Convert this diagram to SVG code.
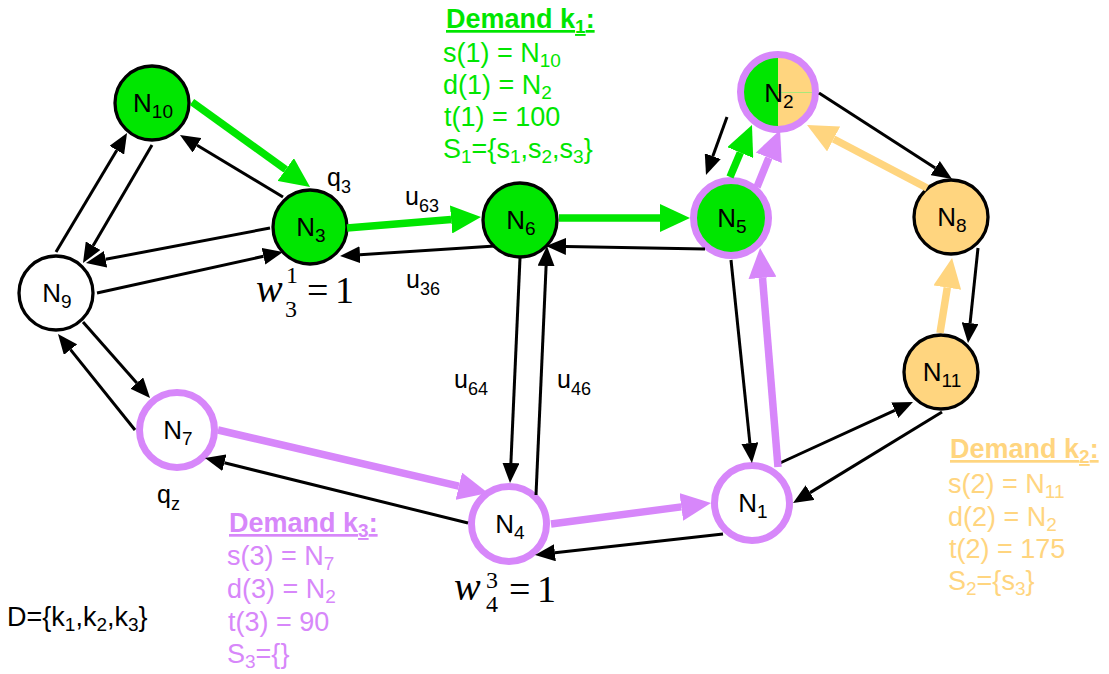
<svg xmlns="http://www.w3.org/2000/svg" width="1109" height="674" viewBox="0 0 1109 674">
  <style>
    text { font-family: "Liberation Sans", Arial, sans-serif; }
    .nl { font-size: 26px; text-anchor: middle; fill: #000; }
    .sb { font-size: 19px; }
    .el { font-size: 25px; fill: #000; }
    .es { font-size: 18px; }
    .dm { font-size: 27px; }
    .hd { font-weight: bold; text-decoration: underline; }
    .gt { fill: #00e600; }
    .pt { fill: #d787fa; }
    .ot { fill: #ffd57f; }
    .mt { font-family: "Liberation Serif", "Times New Roman", serif; fill: #000; }
    .bk { stroke: #000; stroke-width: 3; fill: none; marker-end: url(#ah); }
    .ge { stroke: #00e600; stroke-width: 7.5; fill: none; marker-end: url(#ahg); }
    .pe { stroke: #d787fa; stroke-width: 7.5; fill: none; marker-end: url(#ahp); }
    .oe { stroke: #ffd57f; stroke-width: 7.5; fill: none; marker-end: url(#aho); }
    .ng { fill: #00e600; stroke: #000; stroke-width: 3.3; }
    .nw { fill: #fff; stroke: #000; stroke-width: 3.3; }
    .no { fill: #ffd57f; stroke: #000; stroke-width: 3.3; }
    .npg { fill: #00e600; stroke: #d787fa; stroke-width: 7; }
    .npw { fill: #fff; stroke: #d787fa; stroke-width: 7; }
  </style>
  <defs>
    <marker id="ah" markerUnits="userSpaceOnUse" viewBox="0 0 20 17" markerWidth="20" markerHeight="17" refX="0" refY="8.5" orient="auto">
      <path d="M0,0 L20,8.5 L0,17 z" fill="#000"/>
    </marker>
    <marker id="ahg" markerUnits="userSpaceOnUse" viewBox="0 0 30 28" markerWidth="30" markerHeight="28" refX="0" refY="14" orient="auto">
      <path d="M0,0 L30,14 L0,28 z" fill="#00e600"/>
    </marker>
    <marker id="ahp" markerUnits="userSpaceOnUse" viewBox="0 0 30 28" markerWidth="30" markerHeight="28" refX="0" refY="14" orient="auto">
      <path d="M0,0 L30,14 L0,28 z" fill="#d787fa"/>
    </marker>
    <marker id="aho" markerUnits="userSpaceOnUse" viewBox="0 0 30 28" markerWidth="30" markerHeight="28" refX="0" refY="14" orient="auto">
      <path d="M0,0 L30,14 L0,28 z" fill="#ffd57f"/>
    </marker>
  </defs>

  <!-- nodes -->
  <g id="n10"><circle class="ng" cx="152" cy="103" r="37"/><text class="nl" x="153" y="112">N<tspan class="sb" dy="6">10</tspan></text></g>
  <g id="n3"><circle class="ng" cx="310" cy="227" r="37"/><text class="nl" x="311" y="236">N<tspan class="sb" dy="6">3</tspan></text></g>
  <g id="n9"><circle class="nw" cx="56" cy="293" r="37"/><text class="nl" x="57" y="302">N<tspan class="sb" dy="6">9</tspan></text></g>
  <g id="n6"><circle class="ng" cx="520" cy="220" r="37"/><text class="nl" x="521" y="229">N<tspan class="sb" dy="6">6</tspan></text></g>
  <g id="n5"><circle class="npg" cx="731" cy="218" r="37.5"/><text class="nl" x="732" y="227">N<tspan class="sb" dy="6">5</tspan></text></g>
  <g id="n2">
    <path d="M778,54.5 A37.5,37.5 0 0 0 778,129.5 Z" fill="#00e600"/>
    <path d="M778,54.5 A37.5,37.5 0 0 1 778,129.5 Z" fill="#ffd57f"/>
    <line x1="778" y1="92.5" x2="815" y2="92.5" stroke="#a8e87a" stroke-width="1"/>
    <circle cx="778" cy="92" r="37.5" fill="none" stroke="#d787fa" stroke-width="7"/>
    <text class="nl" x="779" y="102">N<tspan class="sb" dy="6">2</tspan></text>
  </g>
  <g id="n8"><circle class="no" cx="951" cy="217" r="37"/><text class="nl" x="952" y="226">N<tspan class="sb" dy="6">8</tspan></text></g>
  <g id="n11"><circle class="no" cx="941" cy="372" r="37"/><text class="nl" x="942" y="381">N<tspan class="sb" dy="6">11</tspan></text></g>
  <g id="n7"><circle class="npw" cx="177" cy="430" r="37.5"/><text class="nl" x="178" y="439">N<tspan class="sb" dy="6">7</tspan></text></g>
  <g id="n4"><circle class="npw" cx="509" cy="524" r="37.5"/><text class="nl" x="510" y="533">N<tspan class="sb" dy="6">4</tspan></text></g>
  <g id="n1"><circle class="npw" cx="752" cy="503" r="37.5"/><text class="nl" x="753" y="512">N<tspan class="sb" dy="6">1</tspan></text></g>

  <!-- connectors -->
  <g id="connectors">
    <line class="bk" x1="283" y1="197" x2="197.1" y2="145.3"/>
    <line class="bk" x1="56" y1="252" x2="116.8" y2="150.2"/>
    <line class="bk" x1="152" y1="145" x2="93.1" y2="245.7"/>
    <line class="bk" x1="270" y1="228" x2="105.6" y2="259.3"/>
    <line class="bk" x1="97" y1="293" x2="263.5" y2="256.3"/>
    <line class="bk" x1="495" y1="246" x2="360" y2="254.7"/>
    <line class="bk" x1="705" y1="249" x2="566" y2="246.4"/>
    <line class="bk" x1="520" y1="258" x2="510.9" y2="463"/>
    <line class="bk" x1="536" y1="495" x2="546.1" y2="266"/>
    <line class="bk" x1="731" y1="260" x2="749.9" y2="443.1"/>
    <line class="bk" x1="723" y1="534" x2="554.9" y2="552.8"/>
    <line class="bk" x1="468" y1="523" x2="224.4" y2="462.8"/>
    <line class="bk" x1="83" y1="322" x2="136.8" y2="383"/>
    <line class="bk" x1="135" y1="430" x2="70.5" y2="349.6"/>
    <line class="bk" x1="780" y1="463" x2="894.8" y2="410.3"/>
    <line class="bk" x1="942" y1="412" x2="810.1" y2="492.6"/>
    <line class="bk" x1="819" y1="93" x2="935.2" y2="168.1"/>
    <line class="bk" x1="978" y1="248" x2="970.1" y2="323.1"/>
    <line class="bk" x1="727" y1="117" x2="712.8" y2="156.2"/>

    <line class="ge" x1="192" y1="102" x2="285.7" y2="169.5"/>
    <line class="ge" x1="347" y1="228" x2="451.1" y2="219.5"/>
    <line class="ge" x1="559" y1="218" x2="660" y2="218"/>
    <line class="ge" x1="730" y1="177" x2="740.3" y2="152.6"/>

    <line class="pe" x1="757" y1="187" x2="768.8" y2="157.8"/>
    <line class="pe" x1="778" y1="467" x2="762.5" y2="277.9"/>
    <line class="pe" x1="551" y1="524" x2="681.3" y2="506.9"/>
    <line class="pe" x1="218" y1="430" x2="458.8" y2="486.2"/>

    <line class="oe" x1="927" y1="188" x2="833.6" y2="139"/>
    <line class="oe" x1="940" y1="333" x2="947.3" y2="287.6"/>
  </g>

  <!-- edge labels -->
  <g id="edge-labels">
    <text class="el" x="327" y="186">q<tspan class="es" dy="7">3</tspan></text>
    <text class="el" x="405" y="205">u<tspan class="es" dy="7">63</tspan></text>
    <text class="el" x="406" y="288">u<tspan class="es" dy="7">36</tspan></text>
    <text class="el" x="454" y="388">u<tspan class="es" dy="7">64</tspan></text>
    <text class="el" x="557" y="388">u<tspan class="es" dy="7">46</tspan></text>
    <text class="el" x="157" y="503">q<tspan class="es" dy="7">z</tspan></text>
  </g>

  <!-- weights -->
  <g id="w31">
    <text class="mt" x="256" y="302" font-size="40" font-style="italic">w</text>
    <text class="mt" x="286" y="283" font-size="24">1</text>
    <text class="mt" x="285" y="317" font-size="24">3</text>
    <text class="mt" x="307" y="303" font-size="38">=</text>
    <text class="mt" x="335" y="303" font-size="38">1</text>
  </g>
  <g id="w43">
    <text class="mt" x="454" y="600" font-size="40" font-style="italic">w</text>
    <text class="mt" x="486" y="588" font-size="24">3</text>
    <text class="mt" x="486" y="612" font-size="24">4</text>
    <text class="mt" x="509" y="602" font-size="38">=</text>
    <text class="mt" x="537" y="602" font-size="38">1</text>
  </g>

  <!-- demand k1 -->
  <g id="demand-k1">
    <text class="dm hd gt" x="446" y="28">Demand k<tspan class="sb" dy="5">1</tspan><tspan dy="-5">:</tspan></text>
    <text class="dm gt" x="443" y="62">s(1) = N<tspan class="sb" dy="5">10</tspan></text>
    <text class="dm gt" x="443" y="94">d(1) = N<tspan class="sb" dy="5">2</tspan></text>
    <text class="dm gt" x="444" y="126">t(1) = 100</text>
    <text class="dm gt" x="443" y="158">S<tspan class="sb" dy="5">1</tspan><tspan dy="-5">={s</tspan><tspan class="sb" dy="5">1</tspan><tspan dy="-5">,s</tspan><tspan class="sb" dy="5">2</tspan><tspan dy="-5">,s</tspan><tspan class="sb" dy="5">3</tspan><tspan dy="-5">}</tspan></text>
  </g>

  <!-- demand k2 -->
  <g id="demand-k2">
    <text class="dm hd ot" x="950" y="458">Demand k<tspan class="sb" dy="5">2</tspan><tspan dy="-5">:</tspan></text>
    <text class="dm ot" x="948" y="493">s(2) = N<tspan class="sb" dy="5">11</tspan></text>
    <text class="dm ot" x="948" y="526">d(2) = N<tspan class="sb" dy="5">2</tspan></text>
    <text class="dm ot" x="949" y="558">t(2) = 175</text>
    <text class="dm ot" x="948" y="590">S<tspan class="sb" dy="5">2</tspan><tspan dy="-5">={s</tspan><tspan class="sb" dy="5">3</tspan><tspan dy="-5">}</tspan></text>
  </g>

  <!-- demand k3 -->
  <g id="demand-k3">
    <text class="dm hd pt" x="229" y="532">Demand k<tspan class="sb" dy="5">3</tspan><tspan dy="-5">:</tspan></text>
    <text class="dm pt" x="227" y="565">s(3) = N<tspan class="sb" dy="5">7</tspan></text>
    <text class="dm pt" x="227" y="598">d(3) = N<tspan class="sb" dy="5">2</tspan></text>
    <text class="dm pt" x="228" y="631">t(3) = 90</text>
    <text class="dm pt" x="227" y="663">S<tspan class="sb" dy="5">3</tspan><tspan dy="-5">={}</tspan></text>
  </g>

  <text class="dm" x="7" y="626" fill="#000">D={k<tspan class="sb" dy="5">1</tspan><tspan dy="-5">,k</tspan><tspan class="sb" dy="5">2</tspan><tspan dy="-5">,k</tspan><tspan class="sb" dy="5">3</tspan><tspan dy="-5">}</tspan></text>
</svg>
